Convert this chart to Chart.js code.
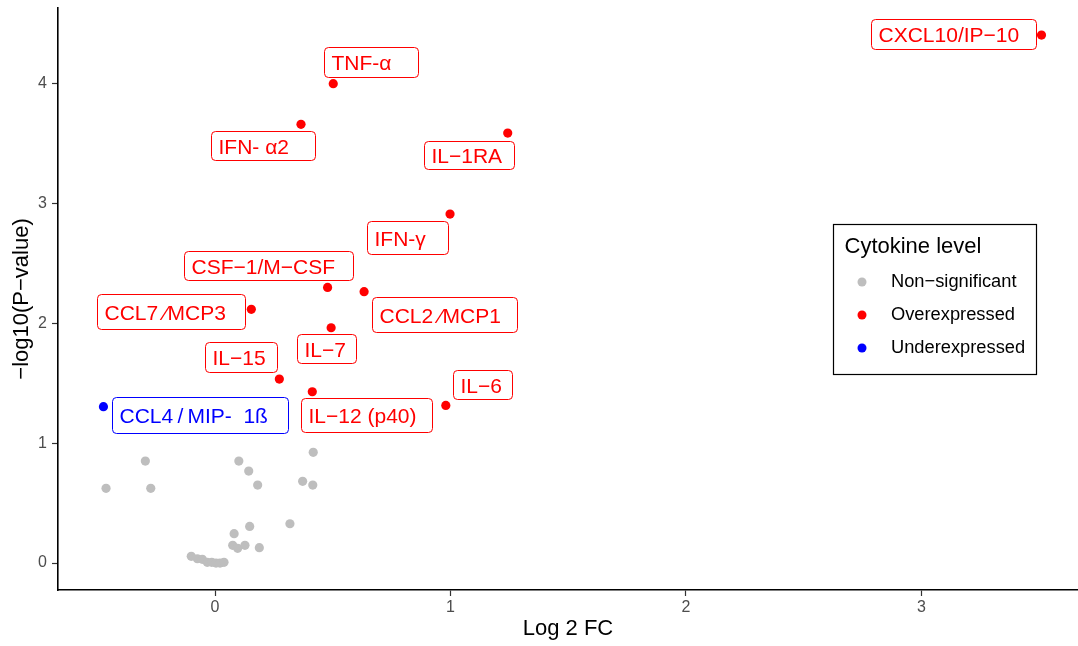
<!DOCTYPE html>
<html>
<head>
<meta charset="utf-8">
<script src="https://cdn.jsdelivr.net/npm/chart.js@4"></script>
<style>
  html, body { margin: 0; padding: 0; background: #fff; }
  #wrap { width: 1078px; height: 646px; position: relative; }
</style>
</head>
<body>
<div id="wrap"><canvas id="chart"></canvas></div>
<script>
// non-significant cytokines (grey)
const nsX = [-0.463, -0.296, -0.273, 0.101, 0.143, 0.181, 0.417, 0.372, 0.415, 0.318, 0.147, 0.081,
	0.075, 0.096, 0.127, 0.188, -0.101, -0.075, -0.054, -0.033, -0.014, 0.004, 0.021, 0.038];
const nsY = [0.624, 0.851, 0.624, 0.851, 0.768, 0.651, 0.924, 0.682, 0.651, 0.328, 0.306, 0.245,
	0.148, 0.123, 0.148, 0.128, 0.056, 0.036, 0.031, 0.006, 0.006, 0.0, 0.0, 0.006];

// overexpressed cytokines (red)
const overNames = ['CXCL10/IP\u221210', 'TNF-\u03b1', 'IFN- \u03b12', 'IL\u22121RA', 'IFN-\u03b3', 'CSF\u22121/M\u2212CSF',
	'CCL2 \u2044MCP1', 'CCL7 \u2044MCP3', 'IL\u22127', 'IL\u221215', 'IL\u221212 (p40)', 'IL\u22126'];
const overX = [3.510, 0.502, 0.365, 1.243, 0.998, 0.478, 0.633, 0.154, 0.493, 0.273, 0.413, 0.980];
const overY = [4.407, 4.001, 3.662, 3.589, 2.913, 2.301, 2.265, 2.118, 1.964, 1.536, 1.430, 1.316];

// underexpressed cytokines (blue)
const underNames = ['CCL4\u2009/\u2009MIP-  1\u00df'];
const underX = [-0.474];
const underY = [1.305];

// axes
const xTicks = [0, 1, 2, 3];
const yTicks = [0, 1, 2, 3, 4];
const xRange = [-0.667, 3.665];
const yRange = [-0.225, 4.633];

// where the repelled label boxes ended up, in data units: [left, right, top, bottom]
const overBoxes = [
	[2.786, 3.485, 4.538, 4.288],
	[0.463, 0.862, 4.305, 4.059],
	[-0.017, 0.425, 3.606, 3.364],
	[0.887, 1.271, 3.525, 3.286],
	[0.647, 0.991, 2.857, 2.577],
	[-0.132, 0.586, 2.604, 2.362],
	[0.665, 1.284, 2.218, 1.931],
	[-0.500, 0.127, 2.243, 1.951],
	[0.347, 0.599, 1.909, 1.667],
	[-0.042, 0.262, 1.842, 1.592],
	[0.364, 0.920, 1.375, 1.091],
	[1.012, 1.262, 1.611, 1.369]
];
const underBoxes = [[-0.439, 0.309, 1.383, 1.083]];

const FONT = '"Liberation Sans", Arial, Helvetica, sans-serif';
const toPoints = (xs, ys) => xs.map((v, i) => ({ x: v, y: ys[i] }));

// ggrepel-like boxed labels
const repelLabels = {
	id: 'repelLabels',
	afterDatasetsDraw(chart) {
		const { ctx, scales: { x, y } } = chart;
		const draw = (names, boxes, color) => {
			names.forEach((name, i) => {
				const b = boxes[i];
				const left = Math.round(x.getPixelForValue(b[0])) + 0.5;
				const right = Math.round(x.getPixelForValue(b[1])) + 0.5;
				const top = Math.round(y.getPixelForValue(b[2])) + 0.5;
				const bottom = Math.round(y.getPixelForValue(b[3])) + 0.5;
				ctx.save();
				ctx.beginPath();
				ctx.roundRect(left, top, right - left, bottom - top, 4);
				ctx.fillStyle = '#fff';
				ctx.fill();
				ctx.lineWidth = 1;
				ctx.strokeStyle = color;
				ctx.stroke();
				ctx.fillStyle = color;
				ctx.font = '21px ' + FONT;
				ctx.textBaseline = 'alphabetic';
				ctx.fillText(name, left + 7, (top + bottom) / 2 + 7.5);
				ctx.restore();
			});
		};
		draw(overNames, overBoxes, '#ff0000');
		draw(underNames, underBoxes, '#0000ff');
	}
};

// legend box on the right, like ggplot's
const boxLegend = {
	id: 'boxLegend',
	afterDraw(chart) {
		const { ctx } = chart;
		const left = 833.5, top = 224.5, w = 203, h = 150;
		ctx.save();
		ctx.fillStyle = '#fff';
		ctx.fillRect(left, top, w, h);
		ctx.strokeStyle = '#000';
		ctx.lineWidth = 1.2;
		ctx.strokeRect(left, top, w, h);
		ctx.fillStyle = '#000';
		ctx.font = '22px ' + FONT;
		ctx.textBaseline = 'alphabetic';
		ctx.fillText('Cytokine level', left + 11, top + 28.5);
		chart.data.datasets.forEach((ds, i) => {
			const cy = top + 57.5 + i * 33;
			ctx.beginPath();
			ctx.arc(left + 28.5, cy, 4.5, 0, Math.PI * 2);
			ctx.fillStyle = ds.backgroundColor;
			ctx.fill();
			ctx.fillStyle = '#000';
			ctx.font = '18.3px ' + FONT;
			ctx.textBaseline = 'middle';
			ctx.fillText(ds.label, left + 57.5, cy);
		});
		ctx.restore();
	}
};

new Chart(document.getElementById('chart'), {
	type: 'scatter',
	data: {
		datasets: [{
			label: 'Non\u2212significant',
			data: toPoints(nsX, nsY),
			backgroundColor: '#bebebe',
			pointRadius: 4.6,
			borderWidth: 0
		}, {
			label: 'Overexpressed',
			data: toPoints(overX, overY),
			backgroundColor: '#ff0000',
			pointRadius: 4.6,
			borderWidth: 0
		}, {
			label: 'Underexpressed',
			data: toPoints(underX, underY),
			backgroundColor: '#0000ff',
			pointRadius: 4.6,
			borderWidth: 0
		}]
	},
	options: {
		responsive: true,
		maintainAspectRatio: false,
		animation: false,
		layout: { autoPadding: false, padding: { top: 8, right: 0, left: 0, bottom: 0 } },
		plugins: {
			legend: { display: false },
			tooltip: { enabled: false }
		},
		scales: {
			x: {
				type: 'linear',
				min: xRange[0],
				max: xRange[1],
				afterBuildTicks: scale => { scale.ticks = xTicks.map(v => ({ value: v })); },
				afterFit: scale => { scale.height = 56; scale.paddingLeft = 0; scale.paddingRight = 0; },
				grid: { drawOnChartArea: false, tickLength: 6, tickColor: '#333', tickWidth: 1.2 },
				border: { display: true, color: '#000', width: 1.6 },
				ticks: { color: '#4d4d4d', padding: 2, font: { family: FONT, size: 16 } },
				title: {
					display: true,
					text: 'Log 2 FC',
					color: '#000',
					font: { family: FONT, size: 22 },
					padding: { top: 0, bottom: 4 }
				}
			},
			y: {
				type: 'linear',
				min: yRange[0],
				max: yRange[1],
				afterBuildTicks: scale => { scale.ticks = yTicks.map(v => ({ value: v })); },
				afterFit: scale => { scale.width = 58; scale.paddingTop = 0; scale.paddingBottom = 0; },
				grid: { drawOnChartArea: false, tickLength: 6, tickColor: '#333', tickWidth: 1.2 },
				border: { display: true, color: '#000', width: 1.6 },
				ticks: { color: '#4d4d4d', padding: 5, font: { family: FONT, size: 16 } },
				title: {
					display: true,
					text: '\u2212log10(P\u2212value)',
					color: '#000',
					font: { family: FONT, size: 22 },
					padding: { top: 9, bottom: 0 }
				}
			}
		}
	},
	plugins: [repelLabels, boxLegend]
});
</script>
</body>
</html>
